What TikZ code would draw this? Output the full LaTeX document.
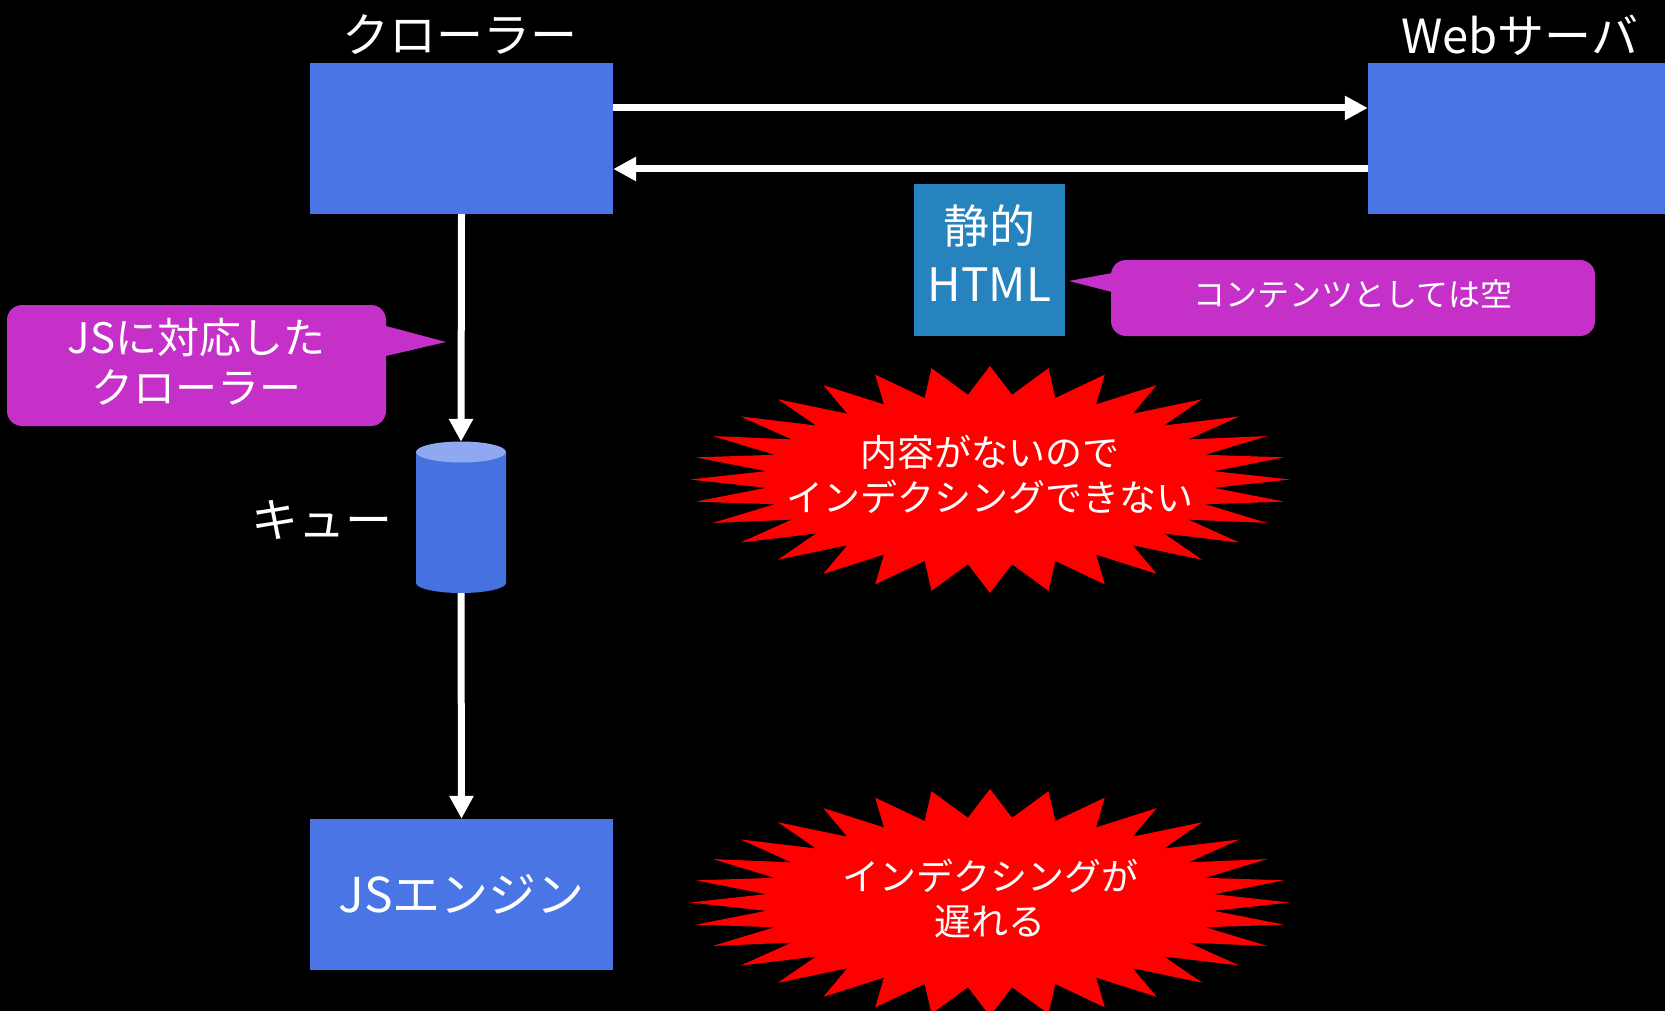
\documentclass[tikz,border=0pt]{standalone}
\usepackage{fontspec}
\setmainfont{Noto Sans CJK JP}
\usetikzlibrary{arrows.meta}
\definecolor{boxblue}{RGB}{74,118,229}
\definecolor{cylbody}{RGB}{69,114,223}
\definecolor{cyltop}{RGB}{142,169,240}
\definecolor{htmlblue}{RGB}{38,131,190}
\definecolor{callmag}{RGB}{197,48,200}
\definecolor{burstred}{RGB}{255,0,0}
\tikzset{
  bluebox/.style={fill=boxblue, draw=none, minimum width=303pt, minimum height=151pt, inner sep=0pt, text=white},
  title/.style={text=white, font=\fontsize{47}{56}\selectfont, inner sep=0pt},
  arr/.style={draw=white, line width=7pt, -{Triangle[length=23pt,width=23pt]}},
  callout/.style={fill=callmag, rounded corners=15pt, inner sep=0pt},
  whitetext/.style={text=white, align=center, inner sep=0pt},
  bursttext/.style={whitetext, font=\fontsize{37}{45}\selectfont},
}
\begin{document}
\begin{tikzpicture}[x=1pt,y=-1pt]
\fill[black] (0,0) rectangle (1665,1011);
\useasboundingbox (0,0) rectangle (1665,1011);

% boxes
\node[bluebox] (crawler) at (461.5,138.5) {};
\node[bluebox] (web) at (1519.5,138.5) {};
\node[bluebox, font=\fontsize{48}{56}\selectfont] (jse) at (461.5,894.5) {JSエンジン};
\node[title] (crawlerlbl) at (460,35) {クローラー};
\node[title] (weblbl) at (1520,35) {Webサーバ};

% static html
\node[fill=htmlblue, minimum width=151pt, minimum height=152pt, inner sep=0pt] (html) at (989.5,260) {};
\node[whitetext, font=\fontsize{46}{58}\selectfont] (htmltxt) at (989.5,253.5) {静的\\HTML};

% arrows between crawler and web server
\coordinate (r1) at (0,108);
\coordinate (r2) at (0,169);
\draw[arr] (crawler.east |- r1) -- (web.west |- r1);
\draw[arr] (web.west |- r2) -- (crawler.east |- r2);

% queue cylinder
\fill[cylbody] (416,452) -- (416,583) arc[start angle=180,end angle=360,x radius=45pt,y radius=10pt] -- (506,452) -- cycle;
\fill[cyltop] (461,452) ellipse[x radius=45pt, y radius=10.5pt];
\node[minimum width=90pt, minimum height=151pt, inner sep=0pt] (queue) at (461,517.5) {};
\node[title] (queuelbl) at (322,520) {キュー};

\draw[arr] (crawler.south) -- (queue.north);
\draw[arr] (queue.south) -- (jse.north);

% callout 1
\node[callout, minimum width=379pt, minimum height=121pt] (call1) at (196.5,365.5) {};
\node[whitetext, font=\fontsize{42}{50}\selectfont] (call1txt) at (196.5,361.5) {JSに対応した\\クローラー};
\coordinate (tip1) at (446,342);
\fill[callmag] (386,326) -- (tip1) -- (386,356) -- cycle;

% callout 2
\node[callout, minimum width=484pt, minimum height=76pt] (call2) at (1353,298) {};
\node[whitetext, font=\fontsize{32}{38}\selectfont] (call2txt) at (1353,294) {コンテンツとしては空};
\coordinate (tip2) at (1069,281);
\fill[callmag] (1112,273) -- (tip2) -- (1112,292) -- cycle;

% bursts
\fill[burstred] plot[samples at={0,...,63}] ({990+300*(1-0.25*mod(\x,2))*cos(\x*5.625)}, {479.5+113.5*(1-0.25*mod(\x,2))*sin(\x*5.625)}) -- cycle;
\node[bursttext] (burst1) at (990,475) {内容がないので\\インデクシングできない};

\fill[burstred] plot[samples at={0,...,63}] ({990+300*(1-0.25*mod(\x,2))*cos(\x*5.625)}, {902.5+113.5*(1-0.25*mod(\x,2))*sin(\x*5.625)}) -- cycle;
\node[bursttext] (burst2) at (990,899) {インデクシングが\\遅れる};
\end{tikzpicture}
\end{document}
